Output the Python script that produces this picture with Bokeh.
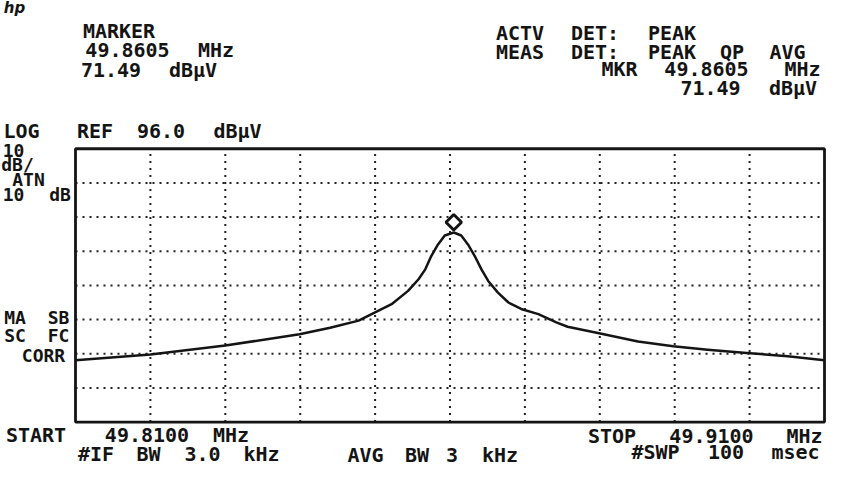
import math
from bokeh.plotting import figure
from bokeh.models import Range1d, ColumnDataSource
from bokeh.core.properties import value
from bokeh.transform import dodge
from bokeh.embed import file_html
from bokeh.resources import INLINE

# ---------------- data ----------------
start_mhz = 49.8100
stop_mhz = 49.9100
ref_level = 96.0          # dBuV, top of screen
db_per_div = 10
n_vdiv = 8
n_hdiv = 10
atten_db = 10
mkr_freq = 49.8605        # MHz
mkr_level = 71.49         # dBuV
if_bw_khz = 3.0
avg_bw_khz = 3
sweep_ms = 100

freq_mhz = [49.8100, 49.8200, 49.8300, 49.8399, 49.8440, 49.8478, 49.8500,
            49.8522, 49.8544, 49.8558, 49.8567, 49.8575, 49.8584, 49.8593,
            49.8605, 49.8615, 49.8624, 49.8633, 49.8642, 49.8651, 49.8664,
            49.8678, 49.8695, 49.8718, 49.8742, 49.8757, 49.8799, 49.8851,
            49.8898, 49.8944, 49.8996, 49.9051, 49.9100]
level_dbuv = [34.1, 35.8, 38.4, 41.7, 43.6, 45.7, 48.1,
              50.5, 54.4, 57.8, 60.7, 64.6, 68.0, 70.6,
              71.49, 70.6, 68.0, 64.6, 60.7, 57.3, 53.9,
              51.0, 49.1, 47.6, 45.2, 43.9, 42.0, 39.6,
              38.2, 37.2, 36.2, 35.3, 34.1]

# ---------------- layout ----------------
W, H = 826, 466


def cx(rx):            # reference-picture x -> canvas x
    return rx - 12


def cy(ry):            # reference-picture y -> canvas y
    return (ry - 9) * 0.985


L, R, T, B = cx(87), cx(836), cy(159.5), cy(437)
bottom_level = ref_level - n_vdiv * db_per_div
dx = (stop_mhz - start_mhz) / (R - L)
dy = (ref_level - bottom_level) / (B - T)
x_lo, x_hi = start_mhz - L * dx, stop_mhz + (W - R) * dx
y_lo, y_hi = bottom_level - (H - B) * dy, ref_level + T * dy


def X(rx):
    return x_lo + cx(rx) * dx


def Y(ry):
    return y_hi - cy(ry) * dy


p = figure(width=W, height=H, output_backend="svg", toolbar_location=None,
           x_range=Range1d(x_lo, x_hi), y_range=Range1d(y_lo, y_hi),
           x_axis_location=None, y_axis_location=None, min_border=0)
for g in p.grid:
    g.visible = False
p.outline_line_color = None
p.background_fill_color = "white"
p.border_fill_color = "white"

INK = "#141414"

# graticule (dotted)
span = stop_mhz - start_mhz
gx = [start_mhz + i * span / n_hdiv for i in range(1, n_hdiv)]
gy = [ref_level - i * db_per_div for i in range(1, n_vdiv)]
p.segment(x0=gx, x1=gx, y0=[bottom_level] * len(gx), y1=[ref_level] * len(gx),
          line_color=INK, line_dash="2 5", line_width=2.0, line_alpha=0.95)
p.segment(x0=[start_mhz] * len(gy), x1=[stop_mhz] * len(gy), y0=gy, y1=gy,
          line_color=INK, line_dash="2 5", line_width=2.0, line_alpha=0.95)

# trace
p.line(freq_mhz, level_dbuv, line_color=INK, line_width=2.5, line_join="round")

# screen border
p.quad(left=[start_mhz], right=[stop_mhz], bottom=[bottom_level], top=[ref_level],
       fill_color=None, line_color=INK, line_width=2.8)

# marker (drawn just above the trace point, as the analyser does)
mk = ColumnDataSource(dict(f=[mkr_freq], lv=[mkr_level]))
p.scatter(x="f", y=dodge("lv", 3.0), source=mk, marker="square", angle=math.pi / 4,
          size=11, line_color=INK, line_width=3, fill_color="white")

# ---------------- screen texts (positions: token centre x, cap centre y) ----------------
FONT = "DejaVu Sans Mono"
BIG, SMALL = "20px", "18px"


def txt(s, rx, ry, size=BIG, style="bold", font=FONT):
    p.text(x=[X(rx)], y=[Y(ry)], text=[s], text_font=value(font),
           text_font_size=value(size), text_font_style=style, text_color=INK,
           text_align="center", text_baseline="alphabetic")


mf = f"{mkr_freq:.4f}"
ml = f"{mkr_level:.2f}"

txt("hp", 26, 17, size="15px", style="bold italic", font="DejaVu Sans")

# header left
txt("MARKER", 130.5, 40)
txt(mf, 139, 59.5); txt("MHz", 227.5, 59.5)
txt(ml, 122.5, 80); txt("dBµV", 204.5, 80)

# header right
txt("ACTV", 531.5, 42.5); txt("DET:", 606.5, 42.5); txt("PEAK", 683.5, 42.5)
txt("MEAS", 531.5, 61); txt("DET:", 606.5, 61); txt("PEAK", 683.5, 61)
txt("QP", 743.5, 61); txt("AVG", 799, 61)
txt("MKR", 631, 79); txt(mf, 718, 79); txt("MHz", 814, 79)
txt(ml, 722, 97.5); txt("dBµV", 804.5, 97.5)

# left stack
txt("LOG", 33, 141); txt("REF", 106.5, 141); txt(f"{ref_level:.1f}", 172.5, 141); txt("dBµV", 249, 141)
txt(f"{db_per_div}", 25, 161.5, size=SMALL)
txt("dB/", 29, 176, size=SMALL)
txt("ATN", 40, 190.5, size=SMALL)
txt(f"{atten_db}", 25, 206, size=SMALL); txt("dB", 71.5, 206, size=SMALL)
txt("MA", 26.5, 330.5, size=SMALL); txt("SB", 70, 330.5, size=SMALL)
txt("SC", 26.5, 349, size=SMALL); txt("FC", 70, 349, size=SMALL)
txt("CORR", 55, 369, size=SMALL)

# bottom
txt("START", 47.5, 450.5); txt(f"{start_mhz:.4f}", 158.5, 450.5); txt("MHz", 242.5, 450.5)
txt("#IF", 107.5, 469.5); txt("BW", 160, 469.5); txt(f"{if_bw_khz:.1f}", 214, 469.5); txt("kHz", 273, 469.5)
txt("AVG", 377, 470); txt("BW", 428.5, 470); txt(f"{avg_bw_khz}", 463.5, 470); txt("kHz", 511.5, 470)
txt("STOP", 623.5, 451); txt(f"{stop_mhz:.4f}", 723, 451); txt("MHz", 816, 451)
txt("#SWP", 667, 467.5); txt(f"{sweep_ms}", 737.5, 467.5); txt("msec", 807, 467.5)

open("out.html", "w").write(file_html(p, INLINE))
